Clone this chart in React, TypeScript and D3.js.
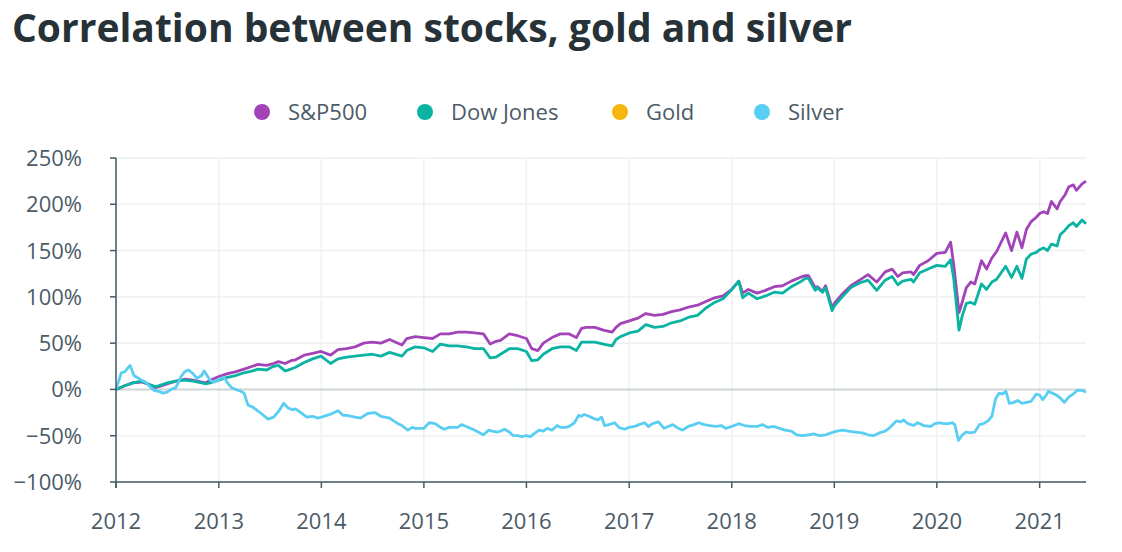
import React from "react";
import * as d3 from "d3";

const TITLE = "Correlation between stocks, gold and silver";

const seriesNames = ["S&P500", "Dow Jones", "Gold", "Silver"];
const seriesColors = ["#a244b8", "#0bb3a2", "#f5b60d", "#59cef2"];

const yTicks = [-100, -50, 0, 50, 100, 150, 200, 250];
const xTickYears = [2012, 2013, 2014, 2015, 2016, 2017, 2018, 2019, 2020, 2021];

const stockDates = [
  "2012-01-01","2012-02-01","2012-03-01","2012-04-01","2012-05-01","2012-05-20","2012-06-01","2012-07-01","2012-08-01","2012-09-01","2012-10-01","2012-11-01","2012-11-15","2012-12-01",
  "2013-01-01","2013-02-01","2013-03-01","2013-04-01","2013-05-01","2013-05-20","2013-06-20","2013-07-15","2013-08-01","2013-08-25","2013-09-15","2013-10-01","2013-11-01","2013-12-01","2013-12-31",
  "2014-02-03","2014-03-01","2014-04-01","2014-05-01","2014-06-01","2014-07-01","2014-08-01","2014-09-01","2014-10-15","2014-11-01","2014-12-01",
  "2015-01-01","2015-02-01","2015-03-01","2015-04-01","2015-05-01","2015-06-01","2015-07-01","2015-08-01","2015-08-25","2015-09-15","2015-10-01","2015-11-01","2015-12-01",
  "2016-01-01","2016-01-20","2016-02-11","2016-03-01","2016-04-01","2016-05-01","2016-06-01","2016-06-27","2016-07-15","2016-08-01","2016-09-01","2016-10-01","2016-11-01","2016-11-15","2016-12-01",
  "2017-01-01","2017-02-01","2017-03-01","2017-04-01","2017-05-01","2017-06-01","2017-07-01","2017-08-01","2017-09-01","2017-10-01","2017-11-01","2017-12-01",
  "2018-01-01","2018-01-26","2018-02-09","2018-03-01","2018-04-01","2018-05-01","2018-06-01","2018-07-01","2018-08-01","2018-09-01","2018-09-20","2018-10-01","2018-10-25","2018-11-01","2018-11-20","2018-12-01","2018-12-24",
  "2019-01-01","2019-02-01","2019-03-01","2019-04-01","2019-05-01","2019-06-01","2019-07-01","2019-07-26","2019-08-15","2019-09-01","2019-10-01","2019-10-10","2019-11-01","2019-12-01",
  "2020-01-01","2020-01-31","2020-02-19","2020-03-01","2020-03-20","2020-04-01","2020-04-15","2020-05-01","2020-05-15","2020-06-08","2020-06-26","2020-07-15","2020-08-01","2020-09-02","2020-09-23","2020-10-12","2020-10-30","2020-11-15","2020-12-01","2020-12-20",
  "2021-01-01","2021-01-15","2021-01-29","2021-02-12","2021-03-04","2021-03-15","2021-04-01","2021-04-15","2021-05-01","2021-05-12","2021-06-01","2021-06-15",
];

const sp500Values = [
  0, 4, 7, 8, 5, 2, 3, 6, 9, 11, 10, 8, 7, 10,
  14, 17, 19, 22, 25, 27, 26, 28, 30, 28, 31, 32, 37, 39, 41,
  37, 43, 44, 46, 50, 51, 50, 54, 48, 55, 57,
  56, 55, 60, 60, 62, 62, 61, 60, 49, 52, 53, 60, 58,
  55, 44, 42, 50, 56, 60, 60, 56, 66, 67, 67, 64, 62, 67, 71,
  74, 77, 82, 80, 81, 84, 86, 89, 91, 95, 99, 101,
  108, 117, 104, 108, 104, 107, 111, 112, 117, 121, 123, 123, 110, 111, 106, 112, 88,
  93, 104, 112, 118, 124, 116, 127, 130, 122, 126, 127, 124, 134, 139,
  147, 148, 159, 135, 83, 95, 110, 116, 114, 139, 130, 142, 149, 169, 150, 170, 153, 173, 181, 186,
  190, 192, 190, 203, 195, 203, 210, 219, 221, 215, 222, 225,
];

const dowValues = [
  0, 4, 7, 9, 5, 3, 4, 7, 9, 10, 9, 7, 6, 7,
  10, 13, 15, 18, 20, 22, 21, 25, 26, 20, 22, 24, 29, 33, 36,
  28, 33, 35, 36, 37, 38, 36, 40, 36, 42, 46,
  45, 41, 49, 47, 47, 46, 44, 44, 34, 35, 38, 44, 44,
  41, 31, 32, 38, 44, 46, 46, 42, 51, 51, 51, 49, 47, 54, 57,
  61, 63, 70, 67, 68, 72, 74, 78, 80, 88, 94, 98,
  108, 117, 99, 104, 98, 101, 105, 104, 111, 116, 120, 120, 107, 110, 105, 110, 85,
  90, 101, 110, 115, 118, 107, 118, 122, 113, 117, 119, 116, 126, 130,
  134, 133, 140, 120, 64, 80, 93, 94, 92, 114, 108, 116, 119, 133, 121, 133, 120, 141, 146, 148,
  151, 153, 150, 157, 155, 167, 172, 177, 180, 176, 183, 179,
];

const goldDates: string[] = [];
const goldValues: number[] = [];

const silverDates = [
  "2012-01-01","2012-01-20","2012-02-01","2012-02-20","2012-03-05","2012-04-01","2012-04-15","2012-05-01","2012-05-15","2012-06-01","2012-06-15","2012-07-01","2012-07-15","2012-08-01","2012-08-20","2012-09-01","2012-09-15","2012-10-01","2012-10-15","2012-11-01","2012-11-10","2012-12-01","2012-12-15",
  "2013-01-01","2013-01-20","2013-02-01","2013-02-15","2013-03-01","2013-03-20","2013-04-01","2013-04-15","2013-05-01","2013-05-15","2013-06-01","2013-06-25","2013-07-15","2013-08-01","2013-08-20","2013-09-05","2013-09-20","2013-10-01","2013-10-20","2013-11-10","2013-12-01","2013-12-20",
  "2014-01-01","2014-02-01","2014-03-01","2014-03-20","2014-04-01","2014-05-01","2014-05-20","2014-06-15","2014-07-10","2014-08-01","2014-09-01","2014-09-15","2014-10-01","2014-10-15","2014-11-05","2014-11-20","2014-12-01",
  "2015-01-01","2015-01-20","2015-02-10","2015-03-01","2015-03-15","2015-04-01","2015-05-01","2015-05-15","2015-06-01","2015-07-01","2015-07-20","2015-08-01","2015-08-20","2015-09-01","2015-09-20","2015-10-01","2015-10-15","2015-11-01","2015-11-15","2015-12-01","2015-12-15",
  "2016-01-01","2016-01-15","2016-02-01","2016-02-15","2016-03-01","2016-03-15","2016-04-01","2016-04-20","2016-05-01","2016-05-20","2016-06-01","2016-06-20","2016-07-05","2016-07-15","2016-07-25","2016-08-10","2016-08-25","2016-09-10","2016-09-25","2016-10-05","2016-10-20","2016-11-10","2016-11-25","2016-12-15",
  "2017-01-01","2017-01-20","2017-02-05","2017-02-25","2017-03-10","2017-03-25","2017-04-15","2017-05-05","2017-05-20","2017-06-05","2017-06-25","2017-07-10","2017-07-30","2017-08-20","2017-09-05","2017-09-25","2017-10-15","2017-11-05","2017-11-25","2017-12-10",
  "2018-01-01","2018-01-25","2018-02-15","2018-03-10","2018-04-01","2018-04-20","2018-05-10","2018-06-01","2018-06-20","2018-07-10","2018-08-01","2018-08-20","2018-09-10","2018-10-01","2018-10-20","2018-11-10","2018-12-01","2018-12-20",
  "2019-01-10","2019-02-01","2019-02-20","2019-03-15","2019-04-10","2019-05-01","2019-05-20","2019-06-10","2019-07-01","2019-07-15","2019-07-25","2019-08-10","2019-08-25","2019-09-05","2019-09-20","2019-10-10","2019-10-25","2019-11-15","2019-12-10","2019-12-25",
  "2020-01-10","2020-01-25","2020-02-10","2020-02-25","2020-03-05","2020-03-18","2020-04-01","2020-04-15","2020-05-01","2020-05-15","2020-06-01","2020-06-15","2020-07-01","2020-07-15","2020-07-28","2020-08-10","2020-08-20","2020-09-03","2020-09-15","2020-10-01","2020-10-15","2020-10-30","2020-11-15","2020-12-01","2020-12-20",
  "2021-01-01","2021-01-12","2021-01-25","2021-02-01","2021-02-15","2021-03-01","2021-03-15","2021-03-30","2021-04-15","2021-05-01","2021-05-15","2021-06-01","2021-06-15",
];

const silverValues = [
  0, 18, 19, 26, 15, 10, 8, 3, -1, -2, -4, -3, 0, 2, 14, 19, 21, 17, 12, 15, 20, 10, 8,
  11, 13, 7, 2, 0, -2, -4, -17, -19, -22, -26, -32, -30, -24, -15, -20, -22, -21, -25, -30, -29, -31,
  -30, -27, -23, -28, -28, -30, -31, -26, -25, -29, -31, -34, -37, -39, -44, -41, -42,
  -42, -36, -37, -41, -43, -41, -41, -38, -40, -44, -47, -49, -44, -45, -46, -45, -43, -46, -50, -50, -51,
  -50, -51, -47, -44, -45, -42, -44, -39, -41, -41, -40, -36, -28, -29, -27, -29, -31, -33, -30, -39, -38, -36, -41, -43,
  -41, -40, -38, -36, -40, -37, -35, -42, -40, -38, -42, -44, -40, -38, -36, -38, -39, -40, -39, -42,
  -40, -37, -39, -40, -40, -38, -41, -40, -42, -44, -45, -49, -50, -49, -48, -50, -49, -47,
  -45, -44, -45, -46, -47, -49, -50, -47, -45, -42, -39, -34, -35, -33, -37, -39, -36, -39, -40, -37,
  -36, -37, -37, -36, -38, -55, -49, -46, -47, -46, -38, -37, -34, -29, -10, -4, -5, -2, -15, -14, -12, -15, -14, -13, -5,
  -6, -11, -6, -2, -4, -6, -9, -14, -8, -5, -1, -1, -3,
];

const W = 1122;
const H = 552;
const FONT = "'Open Sans', sans-serif";
const TEXT = "#4b5b67";
const AXIS = "#455a64";

export default function App() {
  const parse = d3.timeParse("%Y-%m-%d");
  const left = 116, right = 1086, top = 158, bottom = 482;

  const x = d3.scaleTime()
    .domain([parse("2012-01-01") as Date, parse("2021-06-15") as Date])
    .range([left, right]);
  const y = d3.scaleLinear().domain([-100, 250]).range([bottom, top]);

  const mk = (dates: string[], vals: number[]) =>
    dates.map((d, i) => ({ date: parse(d) as Date, v: vals[i] }));

  const series = [
    mk(stockDates, sp500Values),
    mk(stockDates, dowValues),
    mk(goldDates, goldValues),
    mk(silverDates, silverValues),
  ];

  const line = d3.line<{ date: Date; v: number }>()
    .x((d) => x(d.date))
    .y((d) => y(d.v));

  const legendX = [262, 425, 620, 762];

  return (
    <svg width={W} height={H} style={{ position: "absolute", left: 0, top: 0, background: "#fff" }}>
      <text x={12} y={42} fontFamily={FONT} fontWeight={700} fontSize={39} fill="#263238">
        {TITLE}
      </text>

      {seriesNames.map((n, i) => (
        <g key={n}>
          <circle cx={legendX[i]} cy={112} r={8} fill={seriesColors[i]} />
          <text x={legendX[i] + 26} y={120} fontFamily={FONT} fontSize={22} fill={TEXT}>
            {n}
          </text>
        </g>
      ))}

      {xTickYears.map((yr) => {
        const xx = x(new Date(yr, 0, 1));
        return <line key={"gx" + yr} x1={xx} x2={xx} y1={top} y2={bottom} stroke="#eef0f1" strokeWidth={1.5} />;
      })}
      {yTicks.map((t) => (
        <line key={"gy" + t} x1={left} x2={right} y1={y(t)} y2={y(t)}
          stroke={t === 0 ? "#cfd5d8" : "#eef0f1"} strokeWidth={t === 0 ? 2 : 1.5} />
      ))}

      {series.map((s, i) =>
        s.length ? (
          <path key={"s" + i} d={line(s) || ""} fill="none" stroke={seriesColors[i]} strokeWidth={2.8} strokeLinejoin="round" />
        ) : null
      )}

      <line x1={left} x2={left} y1={top} y2={bottom + 6} stroke={AXIS} strokeWidth={1.5} />
      <line x1={left} x2={right} y1={bottom} y2={bottom} stroke={AXIS} strokeWidth={1.5} />
      {yTicks.map((t) => (
        <g key={"yt" + t}>
          <line x1={left - 6} x2={left} y1={y(t)} y2={y(t)} stroke={AXIS} strokeWidth={1.5} />
          <text x={82} y={y(t) + 8} textAnchor="end" fontFamily={FONT} fontSize={22} fill={TEXT}>
            {t < 0 ? "\u2212" + Math.abs(t) + "%" : t + "%"}
          </text>
        </g>
      ))}
      {xTickYears.map((yr) => {
        const xx = x(new Date(yr, 0, 1));
        return (
          <g key={"xt" + yr}>
            <line x1={xx} x2={xx} y1={bottom} y2={bottom + 6} stroke={AXIS} strokeWidth={1.5} />
            <text x={xx} y={529} textAnchor="middle" fontFamily={FONT} fontSize={22} fill={TEXT}>
              {yr}
            </text>
          </g>
        );
      })}
    </svg>
  );
}
